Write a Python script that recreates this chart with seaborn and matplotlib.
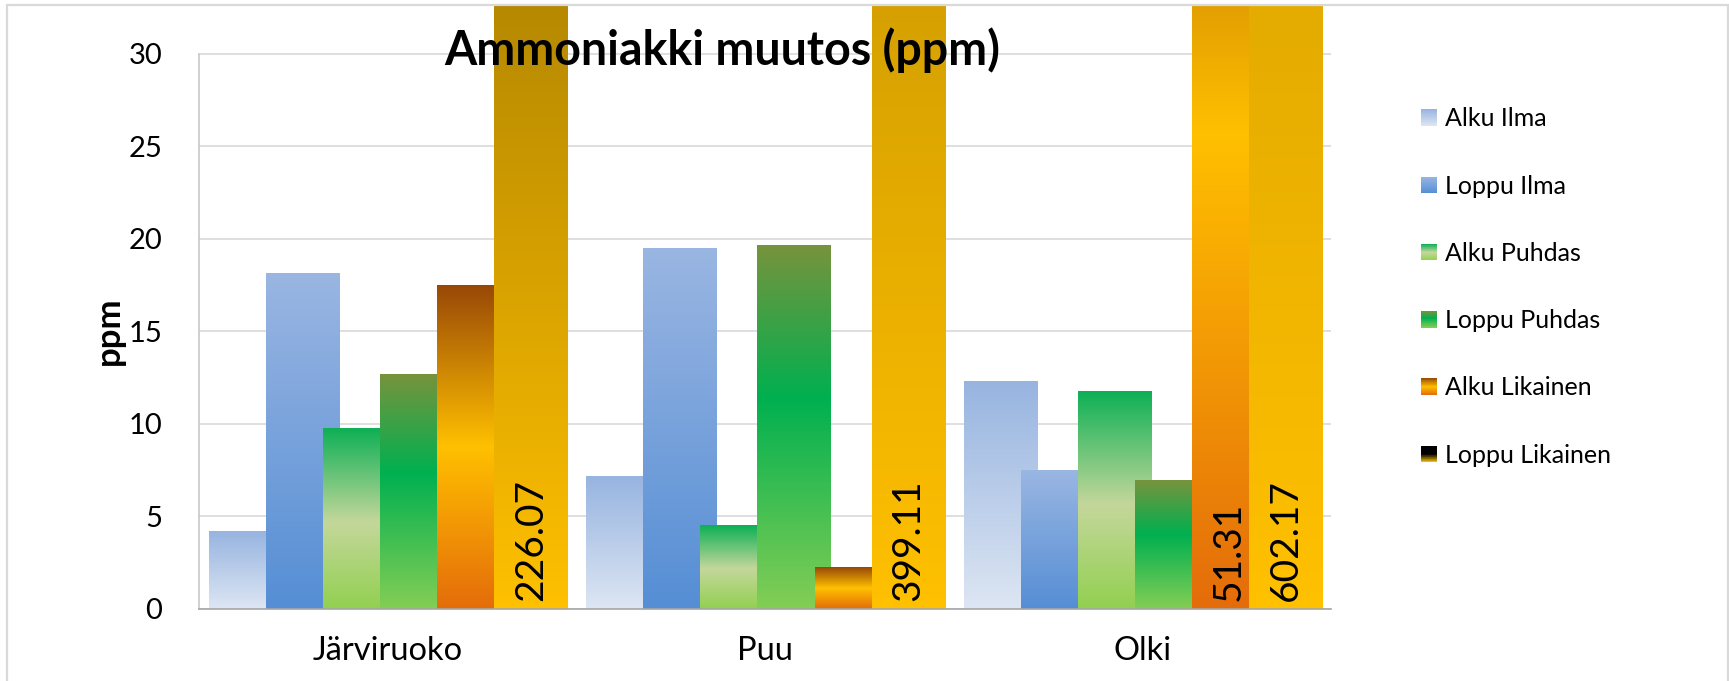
import numpy as np
import pandas as pd
import matplotlib
matplotlib.use("Agg")
import matplotlib.pyplot as plt
import matplotlib.transforms as mtransforms
import seaborn as sns
from matplotlib.colors import LinearSegmentedColormap
from matplotlib.patches import Rectangle
from matplotlib.legend_handler import HandlerBase

# Data luettu kuvasta (ppm)
kategoriat = ["Järviruoko", "Puu", "Olki"]
sarjat = ["Alku Ilma", "Loppu Ilma", "Alku Puhdas", "Loppu Puhdas",
          "Alku Likainen", "Loppu Likainen"]
alku_ilma = [4.17, 7.18, 12.33]
loppu_ilma = [18.14, 19.47, 7.49]
alku_puhdas = [9.76, 4.52, 11.77]
loppu_puhdas = [12.68, 19.66, 6.95]
alku_likainen = [17.5, 2.25, 51.31]
loppu_likainen = [226.07, 399.11, 602.17]
# arvot jotka menevät yli asteikon ja saavat numeron
leimat = {(0, 5): "226.07", (1, 5): "399.11", (2, 4): "51.31", (2, 5): "602.17"}

# Excel-tyyliset liukuvärit (alhaalta ylös)
liukuvarit = {
    "Alku Ilma": [(0, "#DDE6F3"), (1, "#97B4E0")],
    "Loppu Ilma": [(0, "#558ED5"), (1, "#9AB6E2")],
    "Alku Puhdas": [(0, "#92D050"), (0.48, "#C4D79B"), (1, "#0DB055")],
    "Loppu Puhdas": [(0, "#84CE55"), (0.58, "#00B050"), (1, "#77933C")],
    "Alku Likainen": [(0, "#E46C0A"), (0.5, "#FFC000"), (1, "#984807")],
    "Loppu Likainen": [(0, "#FFC000"), (0.5, "#000000"), (1, "#000000")],
}
kartat = {k: LinearSegmentedColormap.from_list(k, v, N=1024) for k, v in liukuvarit.items()}

df = pd.DataFrame({
    "kategoria": np.repeat(kategoriat, len(sarjat)),
    "sarja": sarjat * len(kategoriat),
    "ppm": np.array([alku_ilma, loppu_ilma, alku_puhdas, loppu_puhdas,
                     alku_likainen, loppu_likainen]).T.ravel(),
})


class Liukuhandle(HandlerBase):
    def create_artists(self, legend, orig_handle, xdescent, ydescent,
                       width, height, fontsize, trans):
        cm = kartat[orig_handle.get_label()]
        n = 24
        palat = []
        for k in range(n):
            r = Rectangle((-xdescent, -ydescent + height * k / n), width, height / n + 0.05,
                          facecolor=cm((k + 0.5) / n), edgecolor="none", transform=trans)
            palat.append(r)
        return palat


sns.set_theme(style="white")
plt.rcParams["font.family"] = ["Lato", "DejaVu Sans"]
plt.rcParams["text.color"] = "black"

W, H = 1729, 681
fig = plt.figure(figsize=(W / 100, H / 100), dpi=100)
ax = fig.add_axes([198.5 / W, (H - 608.7) / H, (1331 - 198.5) / W, 603.7 / H])

sns.barplot(data=df, x="kategoria", y="ppm", hue="sarja", order=kategoriat,
            hue_order=sarjat, errorbar=None, saturation=1, legend=False, ax=ax)

kat_px = (1331 - 198.5) / 3
vali = 10.1 / kat_px
askel = 57.1 / kat_px
leveys = 73.8 / kat_px

grad = np.linspace(0, 1, 1024).reshape(-1, 1)
for i, cont in enumerate(ax.containers):
    cm = kartat[sarjat[i]]
    for j, p in enumerate(cont):
        x0 = j - 0.5 + vali + i * askel
        h = p.get_height()
        p.set_x(x0)
        p.set_width(leveys)
        p.set_visible(False)
        ax.imshow(grad, cmap=cm, extent=(x0, x0 + leveys, 0, h), origin="lower",
                  aspect="auto", interpolation="bilinear", zorder=2 + i * 0.01)
        if (j, i) in leimat:
            off = mtransforms.offset_copy(ax.transData, fig=fig, x=0, y=7.5, units="dots")
            ax.text(x0 + leveys / 2, 0, leimat[(j, i)], rotation=90, ha="center",
                    va="bottom", fontsize=28, color="black", transform=off, zorder=10)

ax.set_xlim(-0.5, 2.5)
ax.set_ylim(0, 32.65)
ax.set_yticks([0, 5, 10, 15, 20, 25, 30])
ax.set_yticklabels(["0", "5", "10", "15", "20", "25", "30"], fontsize=21)
ax.set_xticks([-0.5, 0.5, 1.5, 2.5])
ax.set_xticklabels([])
ax.set_xticks([0, 1, 2], minor=True)
ax.set_xticklabels(kategoriat, minor=True, fontsize=23.5)
ax.tick_params(axis="x", which="major", length=13, width=1.2, color="#BFBFBF", direction="out")
ax.tick_params(axis="x", which="minor", length=0, pad=20, labelcolor="black")
ax.tick_params(axis="y", length=11, width=1.2, color="#D9D9D9", direction="out", pad=15,
               labelcolor="black")

ax.set_axisbelow(True)
ax.yaxis.grid(True, color="#D9D9D9", linewidth=1.2)
ax.xaxis.grid(False)
for s in ["top", "right"]:
    ax.spines[s].set_visible(False)
ax.spines["left"].set_bounds(0, 30)
ax.spines["left"].set_color("#C8C8C8")
ax.spines["left"].set_linewidth(1.2)
ax.spines["bottom"].set_color("#A6A6A6")
ax.spines["bottom"].set_linewidth(1.2)
ax.set_xlabel("")
ax.set_ylabel("")

fig.text(109 / W, 1 - 331 / H, "ppm", rotation=90, fontsize=25, fontweight="bold",
         ha="center", va="center", color="black")
fig.text(722.5 / W, 1 - 65 / H, "Ammoniakki muutos (ppm)", fontsize=33.5,
         fontweight="bold", ha="center", va="baseline", zorder=20, color="black")

kahvat = [Rectangle((0, 0), 1, 1, label=s) for s in sarjat]
fig.legend(handles=kahvat, labels=sarjat, handler_map={Rectangle: Liukuhandle()},
           loc="center left", bbox_to_anchor=(1421 / W, 1 - 287 / H),
           bbox_transform=fig.transFigure, frameon=False, fontsize=18,
           handlelength=0.64, handleheight=0.64, handletextpad=0.32,
           labelspacing=1.77, borderpad=0, borderaxespad=0, labelcolor="black")

# kaavion kehys
fig.add_artist(Rectangle((7 / W, -0.05), (1728 - 7) / W, 1.05 - 5 / H,
                         transform=fig.transFigure, fill=False,
                         edgecolor="#D9D9D9", linewidth=1.6))

fig.savefig("out.png", dpi=100)
